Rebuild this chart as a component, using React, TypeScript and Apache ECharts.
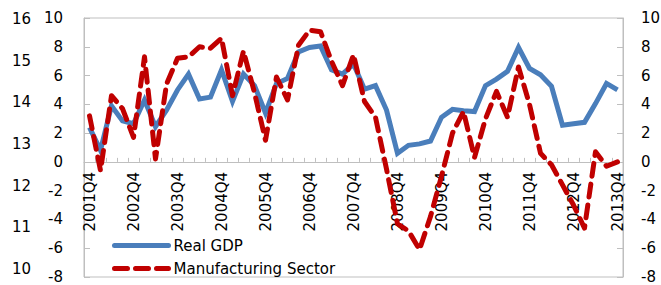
import React, { useEffect, useRef } from "react";
import * as echarts from "echarts";

const categories = [
  "2001Q4", "2002Q1", "2002Q2", "2002Q3", "2002Q4", "2003Q1", "2003Q2", "2003Q3", "2003Q4",
  "2004Q1", "2004Q2", "2004Q3", "2004Q4", "2005Q1", "2005Q2", "2005Q3", "2005Q4",
  "2006Q1", "2006Q2", "2006Q3", "2006Q4", "2007Q1", "2007Q2", "2007Q3", "2007Q4",
  "2008Q1", "2008Q2", "2008Q3", "2008Q4", "2009Q1", "2009Q2", "2009Q3", "2009Q4",
  "2010Q1", "2010Q2", "2010Q3", "2010Q4", "2011Q1", "2011Q2", "2011Q3", "2011Q4",
  "2012Q1", "2012Q2", "2012Q3", "2012Q4", "2013Q1", "2013Q2", "2013Q3", "2013Q4",
];

const realGdp = [
  2.4, 0.8, 3.9, 2.85, 2.65, 4.3, 2.45, 3.6, 5.0, 6.1, 4.37, 4.5, 6.4, 4.2, 6.1, 5.3, 3.4,
  5.45, 5.8, 7.65, 7.95, 8.05, 6.4, 6.1, 6.8, 5.05, 5.3, 3.6, 0.6, 1.15, 1.25, 1.45, 3.1,
  3.65, 3.55, 3.5, 5.3, 5.75, 6.3, 7.95, 6.5, 6.05, 5.25, 2.55, 2.65, 2.75, 4.05, 5.45, 5.0,
];

const manufacturing = [
  3.2, -0.6, 4.6, 3.7, 1.7, 7.3, 0.2, 5.4, 7.2, 7.3, 8.0, 7.9, 8.6, 4.6, 7.7, 4.8, 1.5,
  5.9, 4.3, 8.1, 9.15, 9.05, 7.0, 5.3, 7.45, 4.2, 3.1, -0.5, -4.3, -4.8, -6.1, -3.8, -1.0,
  2.0, 3.5, 0.3, 3.0, 4.9, 3.1, 6.6, 4.0, 0.6, -0.2, -1.6, -3.0, -4.6, 0.7, -0.3, 0.0,
];

const seriesNames = ["Real GDP", "Manufacturing Sector"];
const axisRange = { min: -8, max: 10, interval: 2 };
const outerRange = { min: 10, max: 16, interval: 1 };

const FONT = "DejaVu Sans";
const GRAY = "#BFBFBF";
const BLUE = "#4A7EBB";
const RED = "#C00000";

const GRID_TOP = 18;
const GRID_BOTTOM = 8;
const CHART_H = 285;

export default function App() {
  const ref = useRef<HTMLDivElement>(null);
  useEffect(() => {
    if (!ref.current) return;
    const chart = echarts.init(ref.current, undefined, { renderer: "svg" });
    const label = { fontFamily: FONT, fontSize: 15, color: "#000" };
    const plotH = CHART_H - GRID_TOP - GRID_BOTTOM;
    const zeroFromBottom = (plotH * (0 - axisRange.min)) / (axisRange.max - axisRange.min);
    chart.setOption({
      animation: false,
      textStyle: { fontFamily: FONT },
      grid: [
        { left: 84, right: 38, top: GRID_TOP, bottom: GRID_BOTTOM, show: true, borderColor: GRAY, borderWidth: 1, backgroundColor: "transparent", containLabel: false, outerBoundsMode: "none" },
        { left: 84, right: 38, top: 19, bottom: 16, show: false, containLabel: false, outerBoundsMode: "none" },
      ],
      legend: {
        orient: "vertical",
        left: 112,
        top: 238,
        itemWidth: 54,
        itemHeight: 14,
        itemGap: 8,
        padding: 0,
        itemStyle: { opacity: 0, borderWidth: 0 },
        lineStyle: { width: 5, cap: "round" },
        textStyle: { ...label },
        data: seriesNames,
      },
      xAxis: [
        {
          type: "category",
          gridIndex: 0,
          position: "bottom",
          offset: -zeroFromBottom,
          data: categories,
          boundaryGap: true,
          axisLine: { onZero: false, lineStyle: { color: GRAY, width: 1 } },
          axisTick: { show: true, inside: true, length: 4, interval: 0, lineStyle: { color: GRAY } },
          axisLabel: { ...label, rotate: 90, interval: 3, margin: 10 },
        },
        { type: "category", gridIndex: 1, data: categories, show: false },
      ],
      yAxis: [
        {
          type: "value",
          gridIndex: 0,
          position: "left",
          ...axisRange,
          splitLine: { show: false },
          axisLine: { show: true, onZero: false, lineStyle: { color: GRAY } },
          axisTick: { show: true, inside: true, length: 6, lineStyle: { color: GRAY } },
          axisLabel: { ...label, margin: 21 },
        },
        {
          type: "value",
          gridIndex: 0,
          position: "right",
          ...axisRange,
          splitLine: { show: false },
          axisLine: { show: true, onZero: false, lineStyle: { color: GRAY } },
          axisTick: { show: true, inside: true, length: 6, lineStyle: { color: GRAY } },
          axisLabel: { ...label, margin: 18 },
        },
        {
          type: "value",
          gridIndex: 1,
          position: "left",
          ...outerRange,
          splitLine: { show: false },
          axisLine: { show: false },
          axisTick: { show: false },
          axisLabel: { ...label, margin: 53 },
        },
      ],
      series: [
        {
          name: seriesNames[0],
          type: "line",
          xAxisIndex: 0,
          yAxisIndex: 0,
          data: realGdp,
          symbol: "none",
          lineStyle: { color: BLUE, width: 5, join: "miter" },
          itemStyle: { color: BLUE },
          z: 2,
        },
        {
          name: seriesNames[1],
          type: "line",
          xAxisIndex: 0,
          yAxisIndex: 0,
          data: manufacturing,
          symbol: "none",
          lineStyle: { color: RED, width: 5, type: [13, 8], cap: "round", join: "round" },
          itemStyle: { color: RED },
          z: 3,
        },
      ],
    });
    return () => chart.dispose();
  }, []);
  return <div ref={ref} style={{ width: 661, height: 285, position: "absolute", left: 0, top: 0 }} />;
}
